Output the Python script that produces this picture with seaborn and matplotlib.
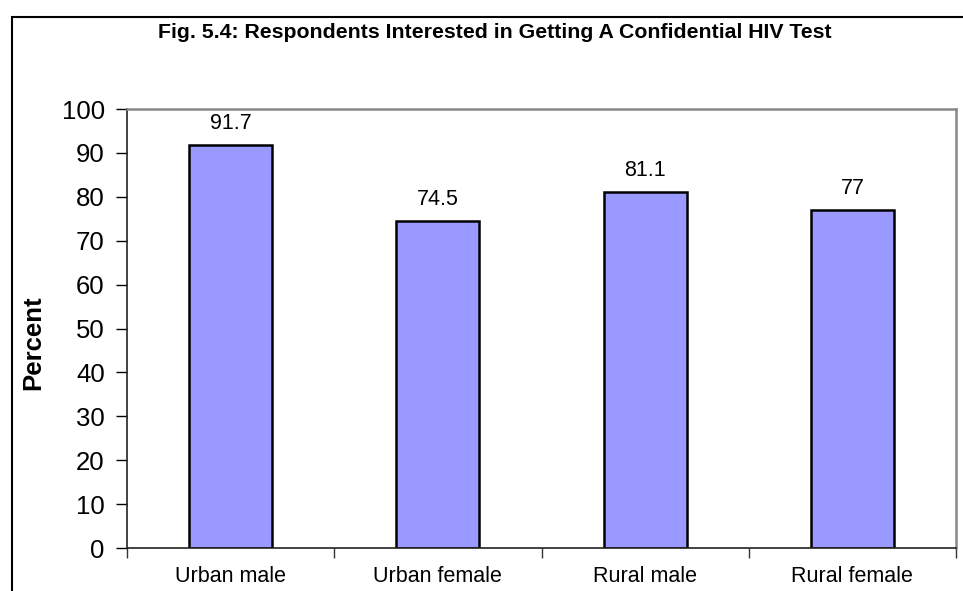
import seaborn as sns
import matplotlib.pyplot as plt
import pandas as pd
from matplotlib.patches import Rectangle

groups = ['Urban male', 'Urban female', 'Rural male', 'Rural female']
percent = [91.7, 74.5, 81.1, 77]
value_labels = ['91.7', '74.5', '81.1', '77']

sns.set_style('white')
plt.rcParams['font.family'] = ['Liberation Sans', 'DejaVu Sans']
plt.rcParams['text.color'] = 'black'

df = pd.DataFrame({'group': groups, 'percent': percent})

fig = plt.figure(figsize=(9.63, 5.91), dpi=100)
ax = fig.add_axes([127 / 963, 1 - 548 / 591, (956 - 127) / 963, (548 - 109) / 591])

sns.barplot(data=df, x='group', y='percent', color='#9999FF', width=0.4,
            edgecolor='black', linewidth=1.8, saturation=1, ax=ax)

ax.bar_label(ax.containers[0], labels=value_labels, padding=8, fontsize=15.5, color='black')

ax.set_ylim(0, 100)
ax.set_xlim(-0.5, 3.5)
ax.set_yticks(range(0, 101, 10))
ax.tick_params(axis='y', labelsize=18.5, length=8, width=1, direction='out',
               left=True, pad=8, colors='black')
ax.set_xticks(range(len(groups)))
ax.set_xticks([-0.5, 0.5, 1.5, 2.5, 3.5], minor=True)
ax.tick_params(axis='x', which='major', length=0, labelsize=15.5, pad=13, labelcolor='black')
ax.tick_params(axis='x', which='minor', length=7, width=1, bottom=True,
               direction='out', color='#333333')
ax.set_xlabel('')
ax.set_ylabel('Percent', fontsize=18.5, fontweight='bold', color='black')
ax.yaxis.set_label_coords(-0.099, 0.467)

for side in ['left', 'bottom']:
    ax.spines[side].set_color('#222222')
    ax.spines[side].set_linewidth(1.2)
for side in ['top', 'right']:
    ax.spines[side].set_visible(True)
    ax.spines[side].set_color('#888888')
    ax.spines[side].set_linewidth(1.8)

fig.text(494.5 / 963, 1 - 32 / 591, 'Fig. 5.4: Respondents Interested in Getting A Confidential HIV Test',
         ha='center', va='center', fontsize=15.3, fontweight='bold')

fig.add_artist(Rectangle((12 / 963, -0.2), 2, 1.2 - 17 / 591, transform=fig.transFigure,
                         fill=False, edgecolor='black', linewidth=1.5))

fig.savefig('out.png', dpi=100)
